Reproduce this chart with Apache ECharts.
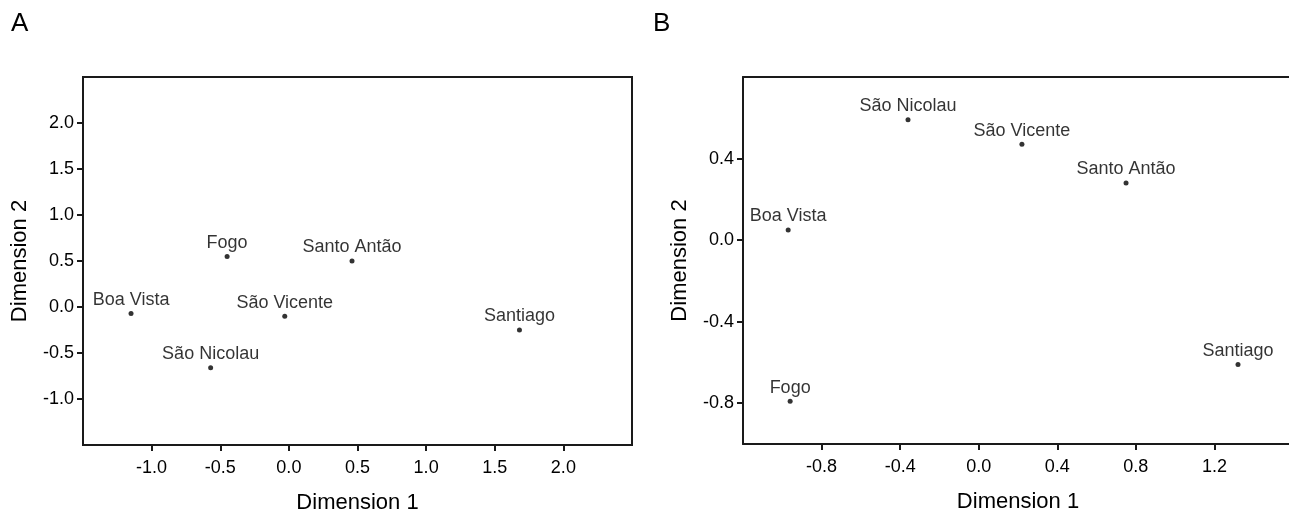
<!DOCTYPE html>
<html>
<head>
<meta charset="utf-8">
<script src="https://cdn.jsdelivr.net/npm/echarts@6/dist/echarts.min.js"></script>
<style>
html,body{margin:0;padding:0;background:#fff;}
#chart{width:1289px;height:515px;}
</style>
</head>
<body>
<div id="chart"></div>
<script>
// Panel A data
const namesA = ['Boa Vista', 'Fogo', 'São Nicolau', 'São Vicente', 'Santo Antão', 'Santiago'];
const dim1A = [-1.15, -0.45, -0.57, -0.03, 0.46, 1.68];
const dim2A = [-0.07, 0.55, -0.66, -0.10, 0.50, -0.25];
const xTicksA = [-1.0, -0.5, 0.0, 0.5, 1.0, 1.5, 2.0];
const yTicksA = [-1.0, -0.5, 0.0, 0.5, 1.0, 1.5, 2.0];

// Panel B data
const namesB = ['Boa Vista', 'Fogo', 'São Nicolau', 'São Vicente', 'Santo Antão', 'Santiago'];
const dim1B = [-0.97, -0.96, -0.36, 0.22, 0.75, 1.32];
const dim2B = [0.05, -0.79, 0.59, 0.47, 0.28, -0.61];
const xTicksB = [-0.8, -0.4, 0.0, 0.4, 0.8, 1.2];
const yTicksB = [-0.8, -0.4, 0.0, 0.4];

const FONT = 'Liberation Sans, Arial, sans-serif';
const TXT = '#000';
const LINE = '#1a1a1a';

function pts(xs, ys, names) {
  return xs.map((x, i) => ({ value: [x, ys[i]], name: names[i] }));
}

function xAxis(gi, min, max, ticks) {
  return {
    type: 'value', gridIndex: gi, min: min, max: max, position: 'bottom',
    name: 'Dimension 1', nameLocation: 'middle', nameGap: 47,
    nameTextStyle: { fontFamily: FONT, fontSize: 22, color: TXT },
    axisLine: { show: true, onZero: false, lineStyle: { color: LINE, width: 2 } },
    axisTick: { show: true, inside: false, length: 6, customValues: ticks, lineStyle: { color: LINE, width: 2 } },
    axisLabel: { customValues: ticks, margin: 14, fontFamily: FONT, fontSize: 18, color: TXT,
      formatter: v => Number(v).toFixed(1) },
    splitLine: { show: false }
  };
}
function topLine(gi, min, max) {
  return {
    type: 'value', gridIndex: gi, min: min, max: max, position: 'top',
    axisLine: { show: true, onZero: false, lineStyle: { color: LINE, width: 2 } },
    axisTick: { show: false }, axisLabel: { show: false }, splitLine: { show: false }
  };
}
function yAxis(gi, min, max, ticks) {
  return {
    type: 'value', gridIndex: gi, min: min, max: max, position: 'left',
    name: 'Dimension 2', nameLocation: 'middle', nameGap: 52,
    nameTextStyle: { fontFamily: FONT, fontSize: 22, color: TXT },
    axisLine: { show: true, onZero: false, lineStyle: { color: LINE, width: 2 } },
    axisTick: { show: true, inside: false, length: 6, customValues: ticks, lineStyle: { color: LINE, width: 2 } },
    axisLabel: { customValues: ticks, margin: 9, fontFamily: FONT, fontSize: 18, color: TXT,
      formatter: v => Number(v).toFixed(1) },
    splitLine: { show: false }
  };
}
function scatter(gi, data) {
  return {
    type: 'scatter', xAxisIndex: gi, yAxisIndex: gi,
    data: data, symbol: 'circle', symbolSize: 5,
    itemStyle: { color: '#000' },
    label: { show: true, position: 'top', distance: 2, formatter: p => p.name,
      fontFamily: FONT, fontSize: 18, color: TXT },
    emphasis: { disabled: true },
    silent: true
  };
}

const chart = echarts.init(document.getElementById('chart'), null, { renderer: 'canvas' });
chart.setOption({
  backgroundColor: '#fff',
  animation: false,
  title: [
    { text: 'A', left: 6, top: 6, textStyle: { fontFamily: FONT, fontSize: 26, fontWeight: 'normal', color: '#000' } },
    { text: 'B', left: 648, top: 6, textStyle: { fontFamily: FONT, fontSize: 26, fontWeight: 'normal', color: '#000' } }
  ],
  grid: [
    { left: 83, top: 77, width: 549, height: 368, show: true, borderColor: LINE, borderWidth: 2,
      backgroundColor: 'transparent', outerBoundsMode: 'none', containLabel: false },
    { left: 743, top: 77, width: 550, height: 367, show: false,
      outerBoundsMode: 'none', containLabel: false }
  ],
  xAxis: [ xAxis(0, -1.5, 2.5, xTicksA), xAxis(1, -1.2, 1.6, xTicksB), topLine(1, -1.2, 1.6) ],
  yAxis: [ yAxis(0, -1.5, 2.5, yTicksA), yAxis(1, -1.0, 0.8, yTicksB) ],
  series: [ scatter(0, pts(dim1A, dim2A, namesA)), scatter(1, pts(dim1B, dim2B, namesB)) ]
});
</script>
</body>
</html>
